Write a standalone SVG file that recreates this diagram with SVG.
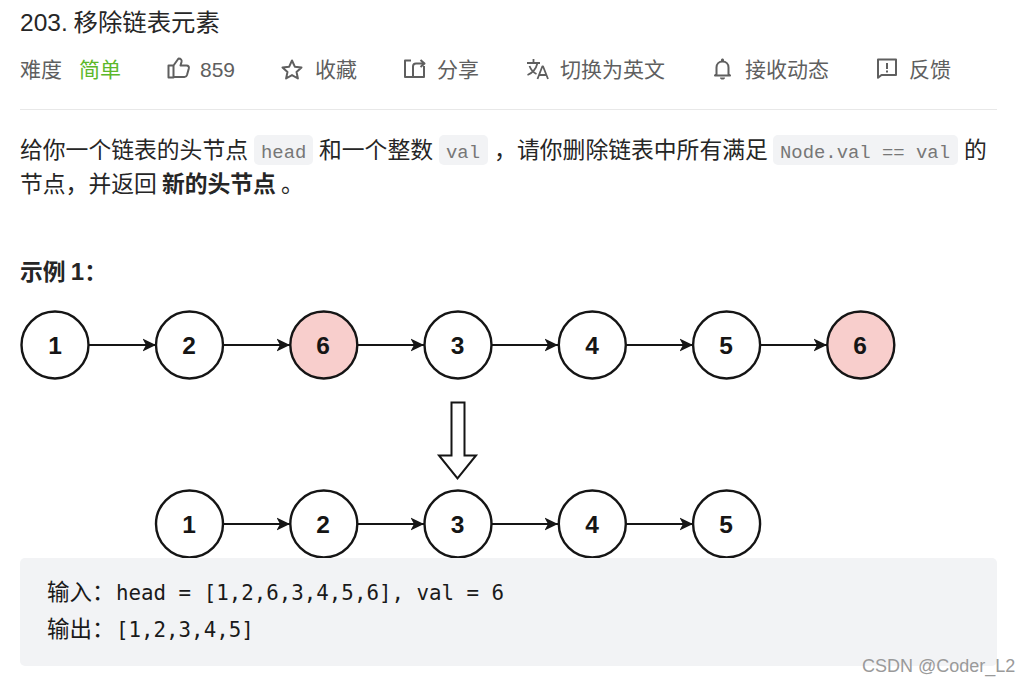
<svg xmlns="http://www.w3.org/2000/svg" width="1031" height="683" viewBox="0 0 1031 683">
<style>
text{font-family:"Noto Sans CJK SC","Liberation Sans",sans-serif}
.meta{font-size:21px;fill:#5f5f5f}
.body{font-size:22.8px;fill:#262626}
.b{font-weight:700}
.cm{font-family:"Liberation Mono",monospace;font-size:18.9px;fill:#777}
.cb{fill:#f2f3f5}
.code{font-family:"DejaVu Sans Mono",monospace;font-size:20.8px;fill:#1a1a1a}
.cjk{font-size:22.5px;fill:#1a1a1a}
.n circle{fill:#fff;stroke:#151515;stroke-width:2.4}
.n.del circle{fill:#f8cecc}
.n text{font-family:"Liberation Sans",Arial,sans-serif;font-weight:700;font-size:24.5px;fill:#151515;text-anchor:middle}
.c line{stroke:#151515;stroke-width:2}
.ic{fill:none;stroke:#5f5f5f;stroke-width:2;stroke-linejoin:round}
</style>
<defs>
<marker id="ah" markerUnits="userSpaceOnUse" markerWidth="16" markerHeight="16" refX="13.500" refY="8" orient="auto">
<path d="M0 1.500L13.500 8L0 14.500L3.500 8Z" fill="#151515"/>
</marker>
</defs>
<rect width="1031" height="683" fill="#fff"/>
<text x="20" y="31" font-size="24.4" fill="#262626"><tspan font-family="Liberation Sans" font-size="24.5">203.</tspan></text>
<text x="73.500" y="31" font-size="24.4" fill="#262626">移除链表元素</text>
<text class="meta" x="20" y="77">难度</text>
<text class="meta" x="79" y="77" style="fill:#5cb82a">简单</text>
<path class="ic" d="M168.500 65.500h5v12h-5zM173.500 65.500l5-7c2.500 0 3.500 1.500 3 3.500l-1 3.500h6c2 0 2.700 1.300 2.300 3l-1.800 6.500c-.4 1.300-1 2-2.500 2h-11"/>
<text class="meta" x="200" y="77" style="font-family:'Liberation Sans'">859</text>
<path class="ic" d="M292 60.500l2.800 6.200 6.700.7-5 4.500 1.400 6.600-5.900-3.400-5.900 3.400 1.400-6.600-5-4.500 6.700-.7z"/>
<text class="meta" x="315" y="77">收藏</text>
<path class="ic" d="M411 60.500h-6v16.500h19v-11M413 77v-10.500c0-2 1-3 3-3h8M420.500 60l4 3.500-4 3.500"/>
<text class="meta" x="437" y="77">分享</text>
<path class="ic" style="stroke-width:1.800" d="M527 63h13M533.500 59v4M537.500 63c-1.500 6-5 10-10 12M529.500 66c1.500 4 4 6.500 7 8"/>
<path class="ic" style="stroke-width:1.800" d="M537.500 79l4.800-12.500h.8L548 79M539.500 75h7"/>
<text class="meta" x="560" y="77">切换为英文</text>
<path class="ic" d="M716.500 74v-6.500c0-3.500 2.500-6 6-6s6 2.500 6 6v6.500l1.500 1.500h-15z"/>
<path d="M720 77.500h5c0 1.500-1 2-2.500 2s-2.500-.5-2.500-2zM721 60c0-2 3-2 3 0v2h-3z" fill="#5f5f5f"/>
<text class="meta" x="745" y="77">接收动态</text>
<path class="ic" d="M878 59.500h18v15.500h-14.500l-3.500 2.800z"/>
<path d="M886 63h2v6h-2zM886 70.500h2v2h-2z" fill="#5f5f5f"/>
<text class="meta" x="909" y="77">反馈</text>
<rect x="20" y="109" width="977" height="1" fill="#e8e8e8"/>

<text class="body" x="20" y="158">给你一个链表的头节点</text>
<rect class="cb" x="254" y="135" width="59" height="30" rx="5"/>
<text class="cm" x="261" y="158">head</text>
<text class="body" x="319" y="158">和一个整数</text>
<rect class="cb" x="439" y="135" width="49" height="30" rx="5"/>
<text class="cm" x="446" y="158">val</text>
<text class="body" x="494" y="158">，</text>
<text class="body" x="517" y="158">请你删除链表中所有满足</text>
<rect class="cb" x="773" y="135" width="185" height="30" rx="5"/>
<text class="cm" x="780" y="158">Node.val == val</text>
<text class="body" x="964" y="158">的</text>
<text class="body" x="20" y="192">节点，并返回 <tspan class="b">新的头节点</tspan> 。</text>
<text class="body b" x="20" y="280">示例 <tspan font-family="Liberation Sans" font-size="24">1</tspan>：</text>

<g id="connectors" class="c">
<line x1="89" y1="345" x2="156" y2="345" marker-end="url(#ah)"/>
<line x1="223" y1="345" x2="290" y2="345" marker-end="url(#ah)"/>
<line x1="358" y1="345" x2="424" y2="345" marker-end="url(#ah)"/>
<line x1="492" y1="345" x2="558" y2="345" marker-end="url(#ah)"/>
<line x1="626" y1="345" x2="693" y2="345" marker-end="url(#ah)"/>
<line x1="760" y1="345" x2="827" y2="345" marker-end="url(#ah)"/>
<line x1="223" y1="524" x2="290" y2="524" marker-end="url(#ah)"/>
<line x1="358" y1="524" x2="424" y2="524" marker-end="url(#ah)"/>
<line x1="492" y1="524" x2="558" y2="524" marker-end="url(#ah)"/>
<line x1="626" y1="524" x2="693" y2="524" marker-end="url(#ah)"/>
</g>
<g id="n1" class="n"><circle cx="55" cy="345" r="33.500"/><text x="55" y="354">1</text></g>
<g id="n2" class="n"><circle cx="189.500" cy="345" r="33.500"/><text x="189" y="354">2</text></g>
<g id="n3" class="n del"><circle cx="323.800" cy="345" r="33.500"/><text x="323" y="354">6</text></g>
<g id="n4" class="n"><circle cx="458" cy="345" r="33.500"/><text x="457.500" y="354">3</text></g>
<g id="n5" class="n"><circle cx="592.300" cy="345" r="33.500"/><text x="592" y="354">4</text></g>
<g id="n6" class="n"><circle cx="726.600" cy="345" r="33.500"/><text x="726" y="354">5</text></g>
<g id="n7" class="n del"><circle cx="860.800" cy="345" r="33.500"/><text x="860" y="354">6</text></g>
<path id="down-arrow" d="M451.500 402.500h13v53h11.500l-18.500 23-18.500-23h12.500z" fill="#fff" stroke="#151515" stroke-width="2"/>
<g id="m1" class="n"><circle cx="189.500" cy="524" r="33.500"/><text x="189" y="533">1</text></g>
<g id="m2" class="n"><circle cx="323.800" cy="524" r="33.500"/><text x="323" y="533">2</text></g>
<g id="m3" class="n"><circle cx="458" cy="524" r="33.500"/><text x="457.500" y="533">3</text></g>
<g id="m4" class="n"><circle cx="592.300" cy="524" r="33.500"/><text x="592" y="533">4</text></g>
<g id="m5" class="n"><circle cx="726.600" cy="524" r="33.500"/><text x="726" y="533">5</text></g>

<rect class="cb" x="20" y="558" width="977" height="108" rx="5"/>
<text class="cjk" x="47" y="600">输入：</text>
<text class="code" x="116" y="600">head = [1,2,6,3,4,5,6], val = 6</text>
<text class="cjk" x="47" y="637">输出：</text>
<text class="code" x="116" y="637">[1,2,3,4,5]</text>
<text x="862" y="672" style="font-family:'Liberation Sans',sans-serif;font-size:18px;fill:#9a9a9a">CSDN @Coder_L2</text>
</svg>
